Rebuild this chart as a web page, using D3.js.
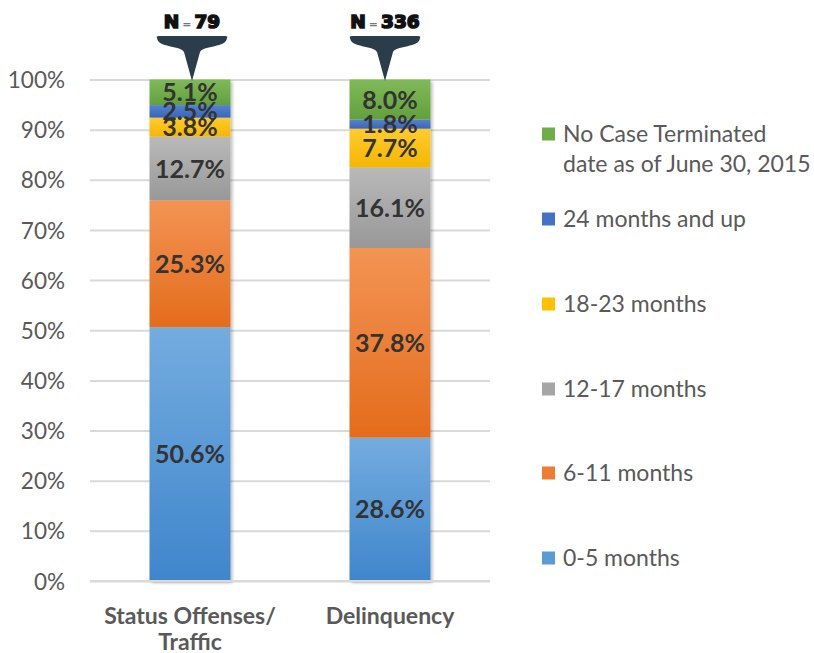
<!DOCTYPE html>
<html>
<head>
<meta charset="utf-8">
<script src="https://cdn.jsdelivr.net/npm/d3@7/dist/d3.min.js"></script>
<style>
  html, body { margin: 0; padding: 0; background: #ffffff; }
  svg { display: block; }
</style>
</head>
<body>
<svg id="chart" width="814" height="653"></svg>
<script>
// Case categories and their sample sizes
const categories = ["Status Offenses/\nTraffic", "Delinquency"];
const sampleSizes = ["79", "336"];

// Time-to-termination groups, stacked bottom to top
const seriesNames = [
  "0-5 months",
  "6-11 months",
  "12-17 months",
  "18-23 months",
  "24 months and up",
  "No Case Terminated\ndate as of June 30, 2015"
];

// Percent of cases per group, one array per category
const statusTraffic = [50.6, 25.3, 12.7, 3.8, 2.5, 5.1];
const delinquency   = [28.6, 37.8, 16.1, 7.7, 1.8, 8.0];

const yTicks = [0, 10, 20, 30, 40, 50, 60, 70, 80, 90, 100];

const colors = ["#5b9bd5", "#ed7d31", "#a5a5a5", "#ffc000", "#4472c4", "#70ad47"];
const lightColors = ["#74acdf", "#f39454", "#b9b9b9", "#ffcb2e", "#5482d0", "#80ba58"];
const darkColors  = ["#3f86cc", "#e46c1c", "#989898", "#f6b600", "#3a66b8", "#62a03d"];

const svg = d3.select("#chart");
const defs = svg.append("defs");

colors.forEach((c, i) => {
  const g = defs.append("linearGradient")
    .attr("id", "grad" + i)
    .attr("x1", 0).attr("y1", 0).attr("x2", 0).attr("y2", 1);
  g.append("stop").attr("offset", "0%").attr("stop-color", lightColors[i]);
  g.append("stop").attr("offset", "100%").attr("stop-color", darkColors[i]);
});

const shadow = defs.append("filter").attr("id", "barShadow")
  .attr("x", "-10%").attr("y", "-5%").attr("width", "130%").attr("height", "115%");
shadow.append("feDropShadow")
  .attr("dx", 2).attr("dy", 2).attr("stdDeviation", 1.5)
  .attr("flood-color", "#000").attr("flood-opacity", 0.25);

const plotLeft = 90, plotRight = 490, plotTop = 79.5, plotBottom = 581;

const x = d3.scaleBand()
  .domain(categories)
  .range([plotLeft, plotRight])
  .paddingInner(0.595)
  .paddingOuter(0.2975);

const y = d3.scaleLinear().domain([0, 100]).range([plotBottom, plotTop]);

// Gridlines and tick labels
const yAxis = d3.axisLeft(y)
  .tickValues(yTicks)
  .tickFormat(d => d + "%")
  .tickSize(-(plotRight - plotLeft))
  .tickPadding(25);

const gAxis = svg.append("g")
  .attr("transform", `translate(${plotLeft},0)`)
  .call(yAxis);
gAxis.select(".domain").remove();
gAxis.selectAll(".tick line")
  .attr("stroke", "#d9d9d9")
  .attr("stroke-width", 2);
gAxis.selectAll(".tick text")
  .attr("fill", "#595959")
  .attr("font-family", "Lato, 'Open Sans', sans-serif")
  .attr("font-size", 22.5)
  .attr("dy", "0.36em");

// Stack the data
const rows = categories.map((c, ci) => {
  const vals = ci === 0 ? statusTraffic : delinquency;
  const r = { category: c };
  seriesNames.forEach((s, si) => { r[s] = vals[si]; });
  return r;
});
const stacked = d3.stack().keys(seriesNames)(rows);

const barsG = svg.append("g").attr("filter", "url(#barShadow)");
stacked.forEach((layer, si) => {
  barsG.selectAll(null)
    .data(layer)
    .join("rect")
    .attr("x", d => x(d.data.category))
    .attr("width", x.bandwidth())
    .attr("y", d => y(d[1]))
    .attr("height", d => y(d[0]) - y(d[1]))
    .attr("fill", `url(#grad${si})`);
});

// Baseline
svg.append("line")
  .attr("x1", plotLeft).attr("x2", plotRight)
  .attr("y1", y(0)).attr("y2", y(0))
  .attr("stroke", "#d9d9d9").attr("stroke-width", 2);

// Value labels
const labelsG = svg.append("g");
stacked.forEach((layer, si) => {
  labelsG.selectAll(null)
    .data(layer)
    .join("text")
    .attr("x", d => x(d.data.category) + x.bandwidth() / 2)
    .attr("y", d => (y(d[0]) + y(d[1])) / 2)
    .attr("dy", "0.36em")
    .attr("text-anchor", "middle")
    .attr("fill", "#333333")
    .attr("font-family", "Lato, 'Open Sans', sans-serif")
    .attr("font-weight", 700)
    .attr("font-size", 25)
    .text(d => (d[1] - d[0]).toFixed(1) + "%");
});

// Category labels
categories.forEach(c => {
  const t = svg.append("text")
    .attr("x", x(c) + x.bandwidth() / 2)
    .attr("y", 624)
    .attr("text-anchor", "middle")
    .attr("fill", "#595959")
    .attr("font-family", "Lato, 'Open Sans', sans-serif")
    .attr("font-weight", 700)
    .attr("font-size", 23);
  c.split("\n").forEach((line, i) => {
    t.append("tspan")
      .attr("x", x(c) + x.bandwidth() / 2)
      .attr("dy", i === 0 ? 0 : 26)
      .text(line);
  });
});

// Sample-size callouts above each bar
categories.forEach((c, ci) => {
  const cx = x(c) + x.bandwidth() / 2 + (ci === 0 ? 2 : -5);
  const y0 = 36;
  const tip = plotTop + 1.5;
  const path = [
    `M${cx - 35},${y0 + 2}`,
    `Q${cx - 36},${y0} ${cx - 33},${y0}`,
    `L${cx + 33},${y0}`,
    `Q${cx + 36},${y0} ${cx + 35},${y0 + 2}`,
    `C${cx + 34},${y0 + 12} ${cx + 12},${y0 + 9} ${cx + 8},${y0 + 16}`,
    `L${cx},${tip}`,
    `L${cx - 8},${y0 + 16}`,
    `C${cx - 12},${y0 + 9} ${cx - 34},${y0 + 12} ${cx - 35},${y0 + 2}`,
    "Z"
  ].join(" ");
  svg.append("path").attr("d", path).attr("fill", "#2b3c4b");

  const t = svg.append("text")
    .attr("x", cx)
    .attr("y", 28)
    .attr("text-anchor", "middle")
    .attr("font-family", "'DejaVu Sans', sans-serif")
    .attr("font-weight", 700)
    .attr("fill", "#111111");
  t.append("tspan").attr("font-size", 18.5).attr("stroke", "#111").attr("stroke-width", 1.6).text("N");
  t.append("tspan").attr("font-size", 11).attr("fill", "#777").attr("dx", 3).text("=");
  t.append("tspan").attr("font-size", 18.5).attr("dx", 3).attr("stroke", "#111").attr("stroke-width", 1.6).text(sampleSizes[ci]);
});

// Legend, top entry first
const legendYs = [134, 219, 304, 389, 473, 558];
const legendOrder = seriesNames.map((s, i) => i).reverse();
const legendG = svg.append("g");
legendOrder.forEach((si, k) => {
  const ly = legendYs[k];
  legendG.append("rect")
    .attr("x", 542).attr("y", ly - 6.5)
    .attr("width", 13).attr("height", 13)
    .attr("fill", colors[si]);
  const t = legendG.append("text")
    .attr("x", 563)
    .attr("y", ly)
    .attr("fill", "#595959")
    .attr("font-family", "Lato, 'Open Sans', sans-serif")
    .attr("font-size", 23);
  seriesNames[si].split("\n").forEach((line, i) => {
    t.append("tspan").attr("x", 563).attr("dy", i === 0 ? "0.36em" : 30).text(line);
  });
});
</script>
</body>
</html>
